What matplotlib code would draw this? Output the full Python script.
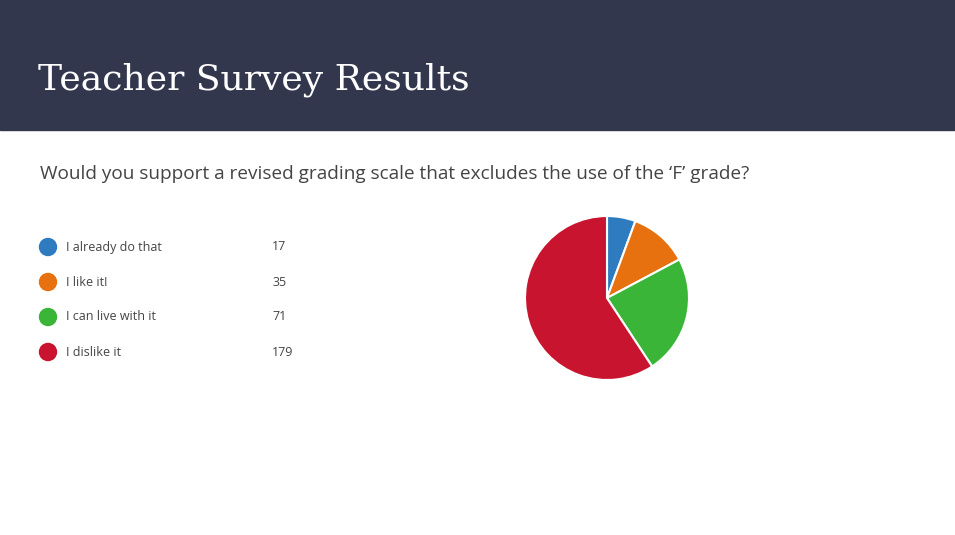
import matplotlib.pyplot as plt
from matplotlib.patches import Rectangle, Circle

title = "Teacher Survey Results"
question = "Would you support a revised grading scale that excludes the use of the \u2018F\u2019 grade?"
labels = ["I already do that", "I like it!", "I can live with it", "I dislike it"]
counts = [17, 35, 71, 179]
colors = ["#2e7cbf", "#e8710f", "#3bb537", "#c9142f"]

W, H = 955, 535
fig = plt.figure(figsize=(W / 100, H / 100), dpi=100)

# background canvas in pixel units
bg = fig.add_axes([0, 0, 1, 1])
bg.set_xlim(0, W)
bg.set_ylim(H, 0)
bg.axis("off")
bg.add_patch(Rectangle((0, 0), W, 130, color="#33374e"))
bg.text(38, 80, title, color="white", fontsize=26, family="DejaVu Serif",
        va="center", ha="left")
bg.text(40, 174, question, color="#444444", fontsize=13.7, family="Open Sans",
        va="center", ha="left")

# legend rows
for i, (lab, n, c) in enumerate(zip(labels, counts, colors)):
    y = 247 + i * 35
    bg.add_patch(Circle((48, y), 8.5, color=c))
    bg.text(66, y, lab, color="#444444", fontsize=9, family="Open Sans",
            va="center", ha="left")
    bg.text(272, y, str(n), color="#444444", fontsize=9, family="Open Sans",
            va="center", ha="left")

# pie
cx, cy, r = 607, 298, 82
ax = fig.add_axes([(cx - r) / W, (H - cy - r) / H, 2 * r / W, 2 * r / H])
ax.pie(counts, colors=colors, startangle=90, counterclock=False,
       wedgeprops=dict(edgecolor="white", linewidth=1.5))
ax.set_xlim(-1, 1)
ax.set_ylim(-1, 1)
ax.set_aspect("equal")

fig.savefig("out.png", dpi=100)
